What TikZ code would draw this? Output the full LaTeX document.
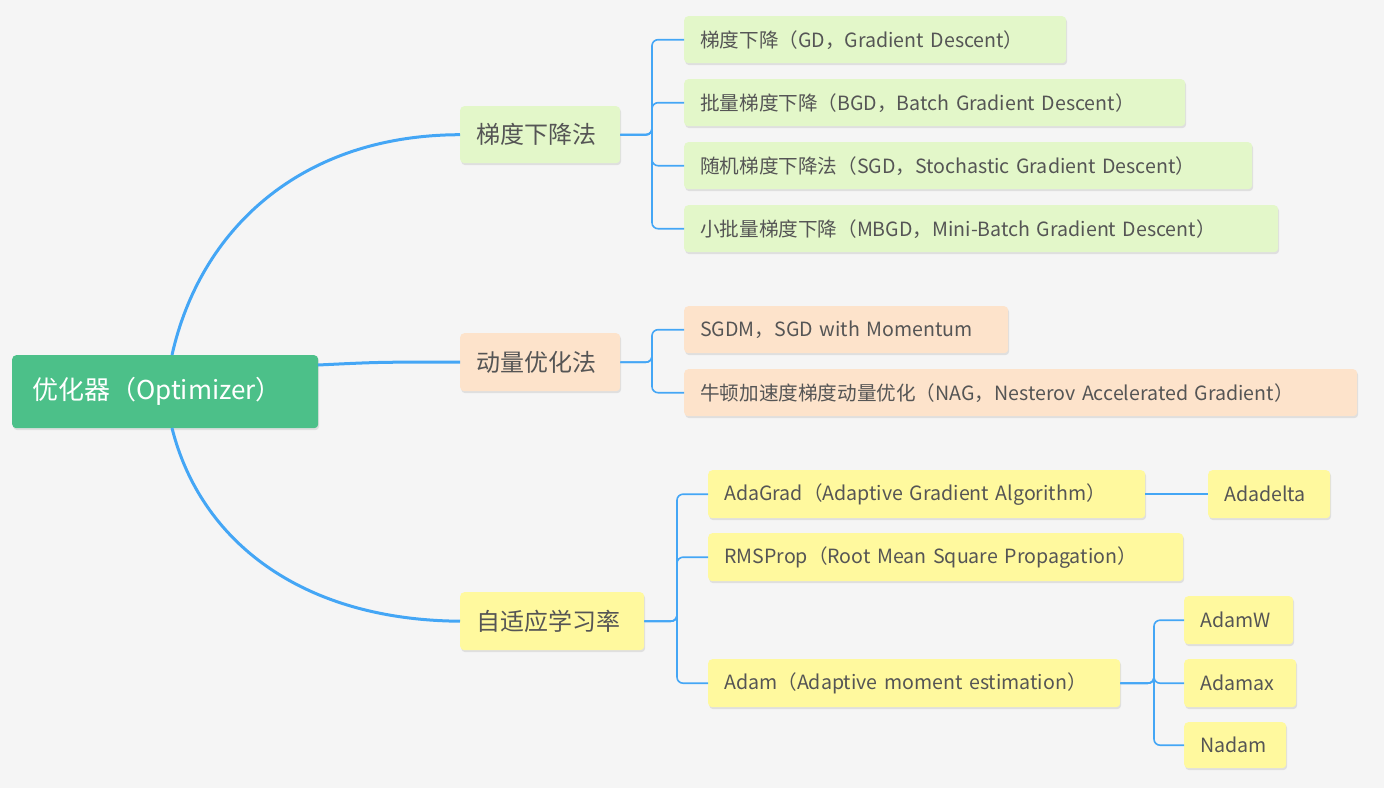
\documentclass[tikz,border=0pt]{standalone}
\usepackage{fontspec}
\setmainfont{Noto Sans CJK SC}
\usetikzlibrary{shadows}
\definecolor{bg}{HTML}{F5F5F5}
\definecolor{rootc}{HTML}{4CC089}
\definecolor{gbox}{HTML}{E3F7C9}
\definecolor{pbox}{HTML}{FDE3CB}
\definecolor{ybox}{HTML}{FFF99E}
\definecolor{lnc}{HTML}{44A6F5}
\definecolor{txt}{HTML}{555555}
\newcommand{\mybx}[7]{%
  \pgfmathsetmacro{\bw}{#4-#2}\pgfmathsetmacro{\bh}{#5-#3}%
  \node[#6, anchor=north west, minimum width=\bw pt, minimum height=\bh pt, text width=\bw pt-32pt] (#1) at (#2,#3) {#7};}
\begin{document}
\begin{tikzpicture}[x=1pt,y=-1pt,
  base/.style={rounded corners=4pt, inner xsep=16pt, inner ysep=0pt, align=left, text=txt,
    drop shadow={opacity=0.18, shadow xshift=1pt, shadow yshift=-2pt}},
  sg/.style={base, fill=gbox, font=\fontsize{19.6}{22}\selectfont},
  sp/.style={base, fill=pbox, font=\fontsize{19.6}{22}\selectfont},
  sy/.style={base, fill=ybox, font=\fontsize{19.6}{22}\selectfont},
  lg/.style={sg, font=\fontsize{24}{28}\selectfont},
  lp/.style={sp, font=\fontsize{24}{28}\selectfont},
  ly/.style={sy, font=\fontsize{24}{28}\selectfont},
  rt/.style={base, fill=rootc, text=white, font=\fontsize{26}{30}\selectfont},
  thick1/.style={draw=lnc, line width=3pt},
  thin1/.style={draw=lnc, line width=1.6pt, rounded corners=6pt}]
\fill[bg] (0,0) rectangle (1384,788);
\useasboundingbox (0,0) rectangle (1384,788);
\mybx{root}{12}{355}{318}{428}{rt}{\hspace*{4pt}优化器（Optimizer）}
\mybx{gd}{460}{106}{620}{163}{lg}{梯度下降法}
\mybx{mo}{460}{333}{620}{391}{lp}{动量优化法}
\mybx{ad}{460}{592}{644}{650}{ly}{自适应学习率}
\mybx{g1}{684}{16}{1066}{63}{sg}{梯度下降（GD，Gradient Descent）}
\mybx{g2}{684}{79}{1185}{126}{sg}{批量梯度下降（BGD，Batch Gradient Descent）}
\mybx{g3}{684}{142}{1252}{189}{sg}{随机梯度下降法（SGD，Stochastic Gradient Descent）}
\mybx{g4}{684}{205}{1278}{252}{sg}{小批量梯度下降（MBGD，Mini-Batch Gradient Descent）}
\mybx{p1}{684}{306}{1008}{353}{sp}{SGDM，SGD with Momentum}
\mybx{p2}{684}{369}{1357}{416}{sp}{牛顿加速度梯度动量优化（NAG，Nesterov Accelerated Gradient）}
\mybx{y1}{708}{470}{1145}{518}{sy}{AdaGrad（Adaptive Gradient Algorithm）}
\mybx{y2}{708}{533}{1183}{581}{sy}{RMSProp（Root Mean Square Propagation）}
\mybx{y3}{708}{659}{1120}{707}{sy}{Adam（Adaptive moment estimation）}
\mybx{z1}{1208}{470}{1330}{518}{sy}{Adadelta}
\mybx{z2}{1184}{596}{1293}{644}{sy}{AdamW}
\mybx{z3}{1184}{659}{1296}{707}{sy}{Adamax}
\mybx{z4}{1184}{722}{1286}{768}{sy}{Nadam}
% main curves
\coordinate (rtop) at (172,355);
\coordinate (rbot) at (172,428);
\coordinate (rmid) at (318,365);
\draw[thick1] (rtop) .. controls (200,230) and (300,135) .. (gd.west);
\draw[thick1] (rmid) .. controls (380,362) .. (mo.west);
\draw[thick1] (rbot) .. controls (200,540) and (300,620) .. (ad.west);
% brackets
\foreach \c in {g1,g2,g3,g4} \draw[thin1] (gd.east) -| (652,0 |- gd.east) |- (\c.west);
\foreach \c in {p1,p2} \draw[thin1] (mo.east) -| (652,0 |- mo.east) |- (\c.west);
\foreach \c in {y1,y2,y3} \draw[thin1] (ad.east) -| (677,0 |- ad.east) |- (\c.west);
\draw[thin1] (y1.east) -- (z1.west);
\foreach \c in {z2,z3,z4} \draw[thin1] (y3.east) -| (1154,0 |- y3.east) |- (\c.west);
\end{tikzpicture}
\end{document}
